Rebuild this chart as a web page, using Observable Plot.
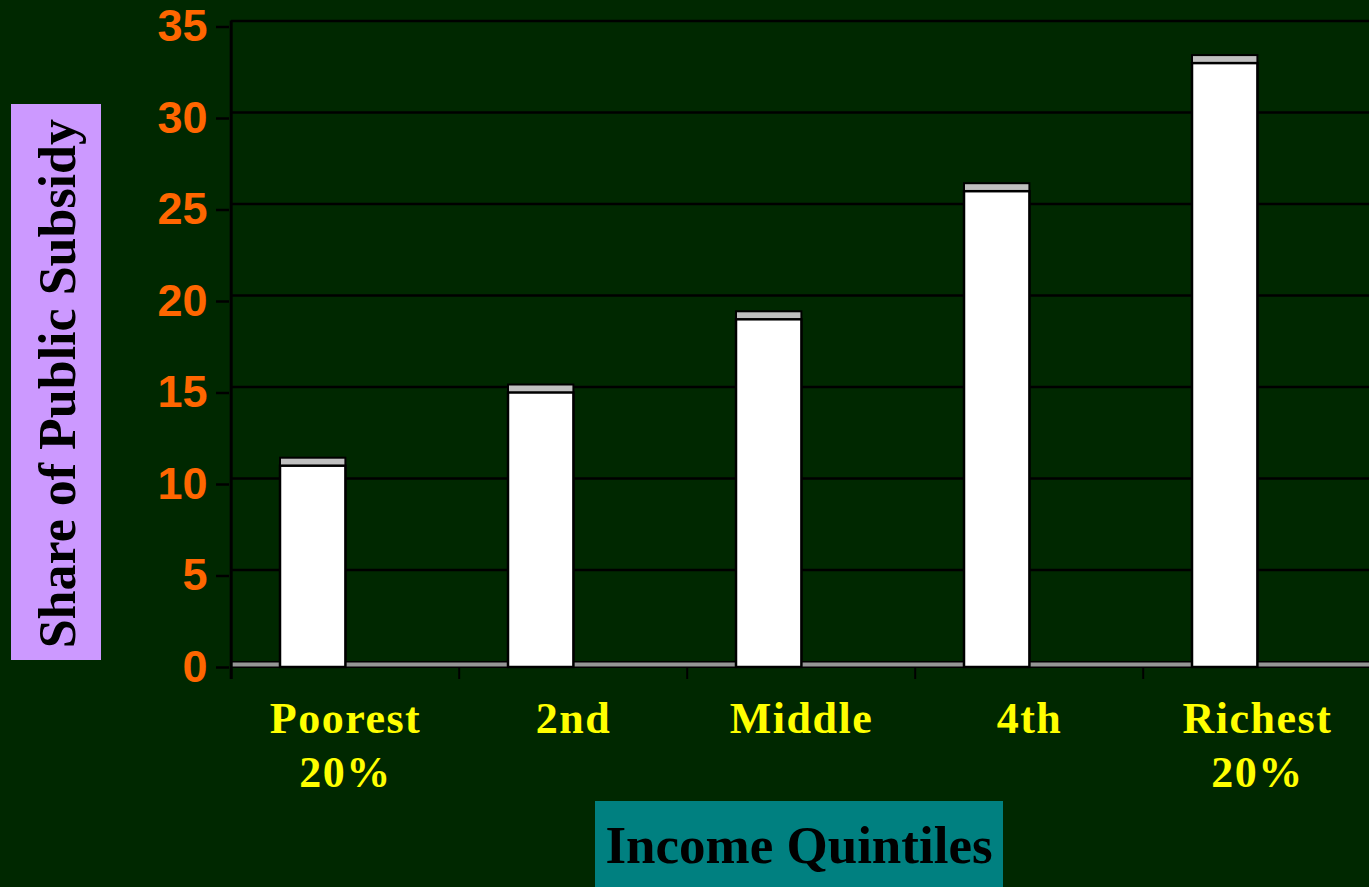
<!DOCTYPE html>
<html>
<head>
<meta charset="utf-8">
<script src="https://cdn.jsdelivr.net/npm/d3@7"></script>
<script src="https://cdn.jsdelivr.net/npm/@observablehq/plot@0.6"></script>
<style>
  html, body { margin: 0; padding: 0; background: #002800; }
  #wrap { position: relative; width: 1369px; height: 887px; overflow: hidden; background: #002800; }
  #chart { position: absolute; left: 0; top: 0; }
  #ytitle {
    position: absolute; left: 11px; top: 104px; width: 90px; height: 556px;
    background: #cc99ff; display: flex; align-items: center; justify-content: center;
  }
  #ytitle span {
    writing-mode: vertical-rl; transform: rotate(180deg);
    font: bold 52px "Liberation Serif", "Times New Roman", serif; color: #000; line-height: 1;
    white-space: nowrap; margin-left: 4px; margin-top: 4px;
  }
  #xtitle {
    position: absolute; left: 595px; top: 801px; width: 408px; height: 86px;
    background: #008080; display: flex; align-items: center; justify-content: center;
    font: bold 53px "Liberation Serif", "Times New Roman", serif; color: #000; line-height: 1;
    white-space: nowrap; padding-top: 3px; box-sizing: border-box;
  }
  .xlab text { letter-spacing: 1.5px; }
</style>
</head>
<body>
<div id="wrap">
  <div id="chart"></div>
  <div id="ytitle"><span>Share of Public Subsidy</span></div>
  <div id="xtitle">Income Quintiles</div>
</div>
<script>
const quintiles = ["Poorest\n20%", "2nd", "Middle", "4th", "Richest\n20%"];
const shares = [11, 15, 19, 26, 33];
const yTicks = [0, 5, 10, 15, 20, 25, 30, 35];
const gridTicks = [5, 10, 15, 20, 25, 30, 35];

const data = quintiles.map((q, i) => ({q, v: shares[i]}));

const x0 = 229, x1 = 1372;
const bw = (x1 - x0) / quintiles.length;
const barL = 49, barW = 66;
const insetL = barL, insetR = bw - barL - barW;

const plot = Plot.plot({
  width: 1369,
  height: 887,
  marginLeft: 229,
  marginRight: 0,
  marginTop: 26.5,
  marginBottom: 220,
  style: {background: "transparent", overflow: "visible"},
  x: {domain: quintiles, range: [x0, x1], padding: 0, axis: null},
  y: {domain: [0, 35], axis: null},
  marks: [
    // back-wall gridlines
    Plot.ruleY(gridTicks, {y: d => d, dy: -6, stroke: "black", strokeWidth: 2.5, insetLeft: 2}),
    // floor
    Plot.ruleY([0], {y: d => d, dy: -3, stroke: "black", strokeWidth: 7, insetLeft: 1}),
    Plot.ruleY([0], {y: d => d, dy: -3, stroke: "#969696", strokeWidth: 4, insetLeft: 3}),
    // left wall / axis line
    Plot.ruleX([quintiles[0]], {x: d => d, dx: -bw / 2, y1: 35, y2: 0, insetTop: -6, insetBottom: -12, stroke: "black", strokeWidth: 3}),
    // x ticks at category boundaries
    Plot.ruleX(quintiles, {x: d => d, dx: -bw / 2, y1: 0, y2: 0, insetBottom: -12, stroke: "black", strokeWidth: 2}),
    // bar top faces
    Plot.barY(data, {x: "q", y: "v", dy: -8, fill: "#c0c0c0", stroke: "black", strokeWidth: 2, insetLeft: insetL, insetRight: insetR}),
    // bar fronts
    Plot.barY(data, {x: "q", y: "v", fill: "white", stroke: "black", strokeWidth: 2.5, insetLeft: insetL, insetRight: insetR}),
    // y axis
    Plot.axisY({
      ticks: yTicks, tickSize: 13, tickPadding: 9, label: null,
      stroke: "black", strokeWidth: 2.5, fill: "#ff6600",
      fontSize: 45, fontWeight: "bold", fontFamily: "'Liberation Sans', Arial, sans-serif",
      tickFormat: d => String(d)
    }),
    // x axis labels
    Plot.axisX({
      tickSize: 0, tickPadding: 27, label: null, fill: "#ffff00",
      fontSize: 44, fontWeight: "bold", fontFamily: "'Liberation Serif', 'Times New Roman', serif",
      lineHeight: 1.227
    })
  ]
});
d3.select(plot).selectAll("g[aria-label='x-axis tick label']").classed("xlab", true);
document.getElementById("chart").appendChild(plot);
</script>
</body>
</html>
